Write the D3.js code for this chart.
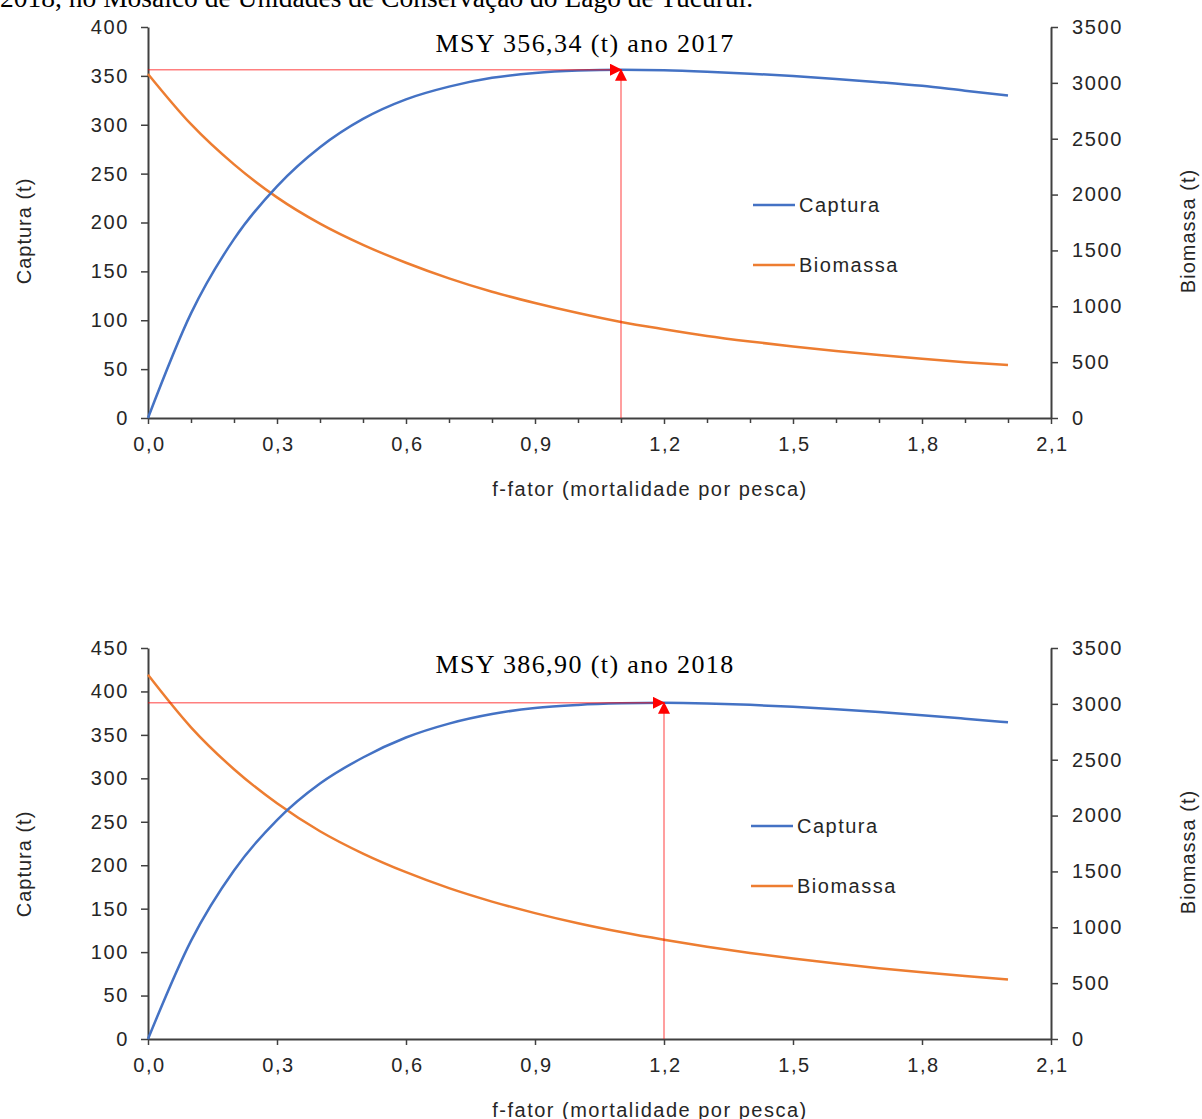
<!DOCTYPE html>
<html><head><meta charset="utf-8">
<script src="https://cdn.jsdelivr.net/npm/d3@7"></script>
<style>body{margin:0;background:#fff}svg{display:block}</style>
</head><body>
<svg id="chart" width="1202" height="1119"></svg>
<script>
// ---------- DATA ----------
const fFactor = [0,0.1,0.2,0.3,0.4,0.5,0.6,0.7,0.8,0.9,1.0,1.1,1.2,1.3,1.4,1.5,1.6,1.7,1.8,1.9,2.0];
const captura2017  = [0,107,183,237,277,306,326,339,348,353,355.5,356.34,355.8,354.3,352.3,349.8,346.9,343.6,339.8,334.8,330];
const biomassa2017 = [3080,2630,2270,1975,1740,1550,1390,1250,1130,1030,940,860,795,735,685,640,600,563,530,500,474];
const captura2018  = [0,113,194,252,294,324,347,363,374,381,384.5,386.3,386.9,386.2,384.6,382.3,379.5,376.3,372.7,368.7,364.5];
const biomassa2018 = [3260,2790,2415,2110,1860,1660,1493,1350,1230,1127,1036,957,888,826,770,720,675,634,597,563,532];
const msyF = [1.1, 1.2];
const msyValue = [356.34, 386.90];
const titles = ["MSY 356,34 (t) ano 2017", "MSY 386,90 (t) ano 2018"];
const xMajorTicks = [0,0.3,0.6,0.9,1.2,1.5,1.8,2.1];
const xMinorTicks = [0.1,0.2,0.4,0.5,0.7,0.8,1.0,1.1,1.3,1.4,1.6,1.7,1.9,2.0];
const yTicks2017 = [0,50,100,150,200,250,300,350,400];
const yTicks2018 = [0,50,100,150,200,250,300,350,400,450];
const rightTicks = [0,500,1000,1500,2000,2500,3000,3500];
const seriesNames = ["Captura","Biomassa"];
const captionText = "2018, no Mosaico de Unidades de Conservação do Lago de Tucuruí.";

// ---------- STYLE ----------
const BLUE = "#4472C4", ORANGE = "#ED7D31", AXIS = "#404040", TXT = "#262626";
const SANS = "'Liberation Sans', Arial, sans-serif";
const SERIF = "'Liberation Serif', 'Times New Roman', serif";
const svg = d3.select("#chart");

const defs = svg.append("defs");
defs.append("marker").attr("id","arr").attr("viewBox","0 0 12 12")
  .attr("refX",11).attr("refY",6).attr("markerWidth",12).attr("markerHeight",12)
  .attr("markerUnits","userSpaceOnUse").attr("orient","auto")
  .append("path").attr("d","M0,0 L12,6 L0,12 Z").attr("fill","#ff0000");

svg.append("text").attr("x",0).attr("y",7).attr("font-family",SERIF).attr("font-size",27.5)
  .attr("fill","#000").text(captionText);

const panels = [
  {top:27, bottom:418, yMax:400, yTicks:yTicks2017, cap:captura2017, bio:biomassa2017, minor:true,
   legendX:753, legendY:205, leftTitleY:231, rightTitleY:231},
  {top:648, bottom:1039, yMax:450, yTicks:yTicks2018, cap:captura2018, bio:biomassa2018, minor:false,
   legendX:751, legendY:826, leftTitleY:864, rightTitleY:852}
];
const left = 148, right = 1051;

panels.forEach((p, i) => {
  const g = svg.append("g");
  const x = d3.scaleLinear().domain([0,2.1]).range([left,right]);
  const y = d3.scaleLinear().domain([0,p.yMax]).range([p.bottom,p.top]);
  const y2 = d3.scaleLinear().domain([0,3500]).range([p.bottom,p.top]);

  // axes
  const ax = g.append("g").attr("transform",`translate(0,${p.bottom})`)
    .call(d3.axisBottom(x).tickValues(xMajorTicks).tickSize(6).tickSizeOuter(0)
      .tickFormat(d => d3.format(".1f")(d).replace(".",",")));
  if (p.minor) {
    g.append("g").attr("transform",`translate(0,${p.bottom})`)
      .call(d3.axisBottom(x).tickValues(xMinorTicks).tickSize(5).tickFormat(""))
      .call(s => s.select(".domain").remove());
  }
  const ay = g.append("g").attr("transform",`translate(${left},0)`)
    .call(d3.axisLeft(y).tickValues(p.yTicks).tickSize(7).tickSizeOuter(0));
  const ay2 = g.append("g").attr("transform",`translate(${right},0)`)
    .call(d3.axisRight(y2).tickValues(rightTicks).tickSize(7).tickSizeOuter(0).tickFormat(d3.format("d")));
  g.selectAll(".domain").attr("stroke",AXIS).attr("stroke-width",2);
  g.selectAll(".tick line").attr("stroke",AXIS).attr("stroke-width",1.5);
  g.selectAll(".tick text").attr("font-family",SANS).attr("font-size",20).attr("fill",TXT)
    .attr("letter-spacing","1.6px");
  ax.selectAll(".tick text").attr("dy","1.05em").attr("y",12).attr("x",1);
  ay.selectAll(".tick text").attr("x",-19);
  ay2.selectAll(".tick text").attr("x",21);

  // lines
  const line = arr => d3.line().x((d,k)=>x(fFactor[k])).y(d=>arr(d)).curve(d3.curveMonotoneX);
  g.append("path").datum(p.bio).attr("d",line(y2)).attr("fill","none").attr("stroke",ORANGE).attr("stroke-width",2.5);
  g.append("path").datum(p.cap).attr("d",line(y)).attr("fill","none").attr("stroke",BLUE).attr("stroke-width",2.5);

  // MSY reference lines
  g.append("line").attr("x1",left).attr("x2",x(msyF[i])).attr("y1",y(msyValue[i])).attr("y2",y(msyValue[i]))
    .attr("stroke","rgba(255,0,0,0.5)").attr("stroke-width",1.5).attr("marker-end","url(#arr)");
  g.append("line").attr("x1",x(msyF[i])).attr("x2",x(msyF[i])).attr("y1",p.bottom).attr("y2",y(msyValue[i]))
    .attr("stroke","rgba(255,0,0,0.5)").attr("stroke-width",1.5).attr("marker-end","url(#arr)");

  // title
  g.append("text").attr("x",585).attr("y",p.top+25).attr("text-anchor","middle")
    .attr("font-family",SERIF).attr("font-size",26).attr("letter-spacing","1.4px").attr("fill","#000").text(titles[i]);

  // legend
  [BLUE, ORANGE].forEach((c,k) => {
    const ly = p.legendY + k*60;
    g.append("line").attr("x1",p.legendX).attr("x2",p.legendX+42).attr("y1",ly).attr("y2",ly)
      .attr("stroke",c).attr("stroke-width",2.5);
    g.append("text").attr("x",p.legendX+46).attr("y",ly+7).attr("font-family",SANS).attr("font-size",20)
      .attr("letter-spacing","1.5px").attr("fill",TXT).text(seriesNames[k]);
  });

  // axis titles
  g.append("text").attr("x",650).attr("y",p.bottom+78).attr("text-anchor","middle")
    .attr("font-family",SANS).attr("font-size",20).attr("letter-spacing","1.5px").attr("fill",TXT)
    .text("f-fator (mortalidade por pesca)");
  g.append("text").attr("transform",`translate(31,${p.leftTitleY}) rotate(-90)`).attr("text-anchor","middle")
    .attr("font-family",SANS).attr("font-size",20).attr("letter-spacing","1px").attr("fill",TXT).text("Captura (t)");
  g.append("text").attr("transform",`translate(1195,${p.rightTitleY}) rotate(-90)`).attr("text-anchor","middle")
    .attr("font-family",SANS).attr("font-size",20).attr("letter-spacing","1px").attr("fill",TXT).text("Biomassa (t)");
});
</script>
</body></html>
